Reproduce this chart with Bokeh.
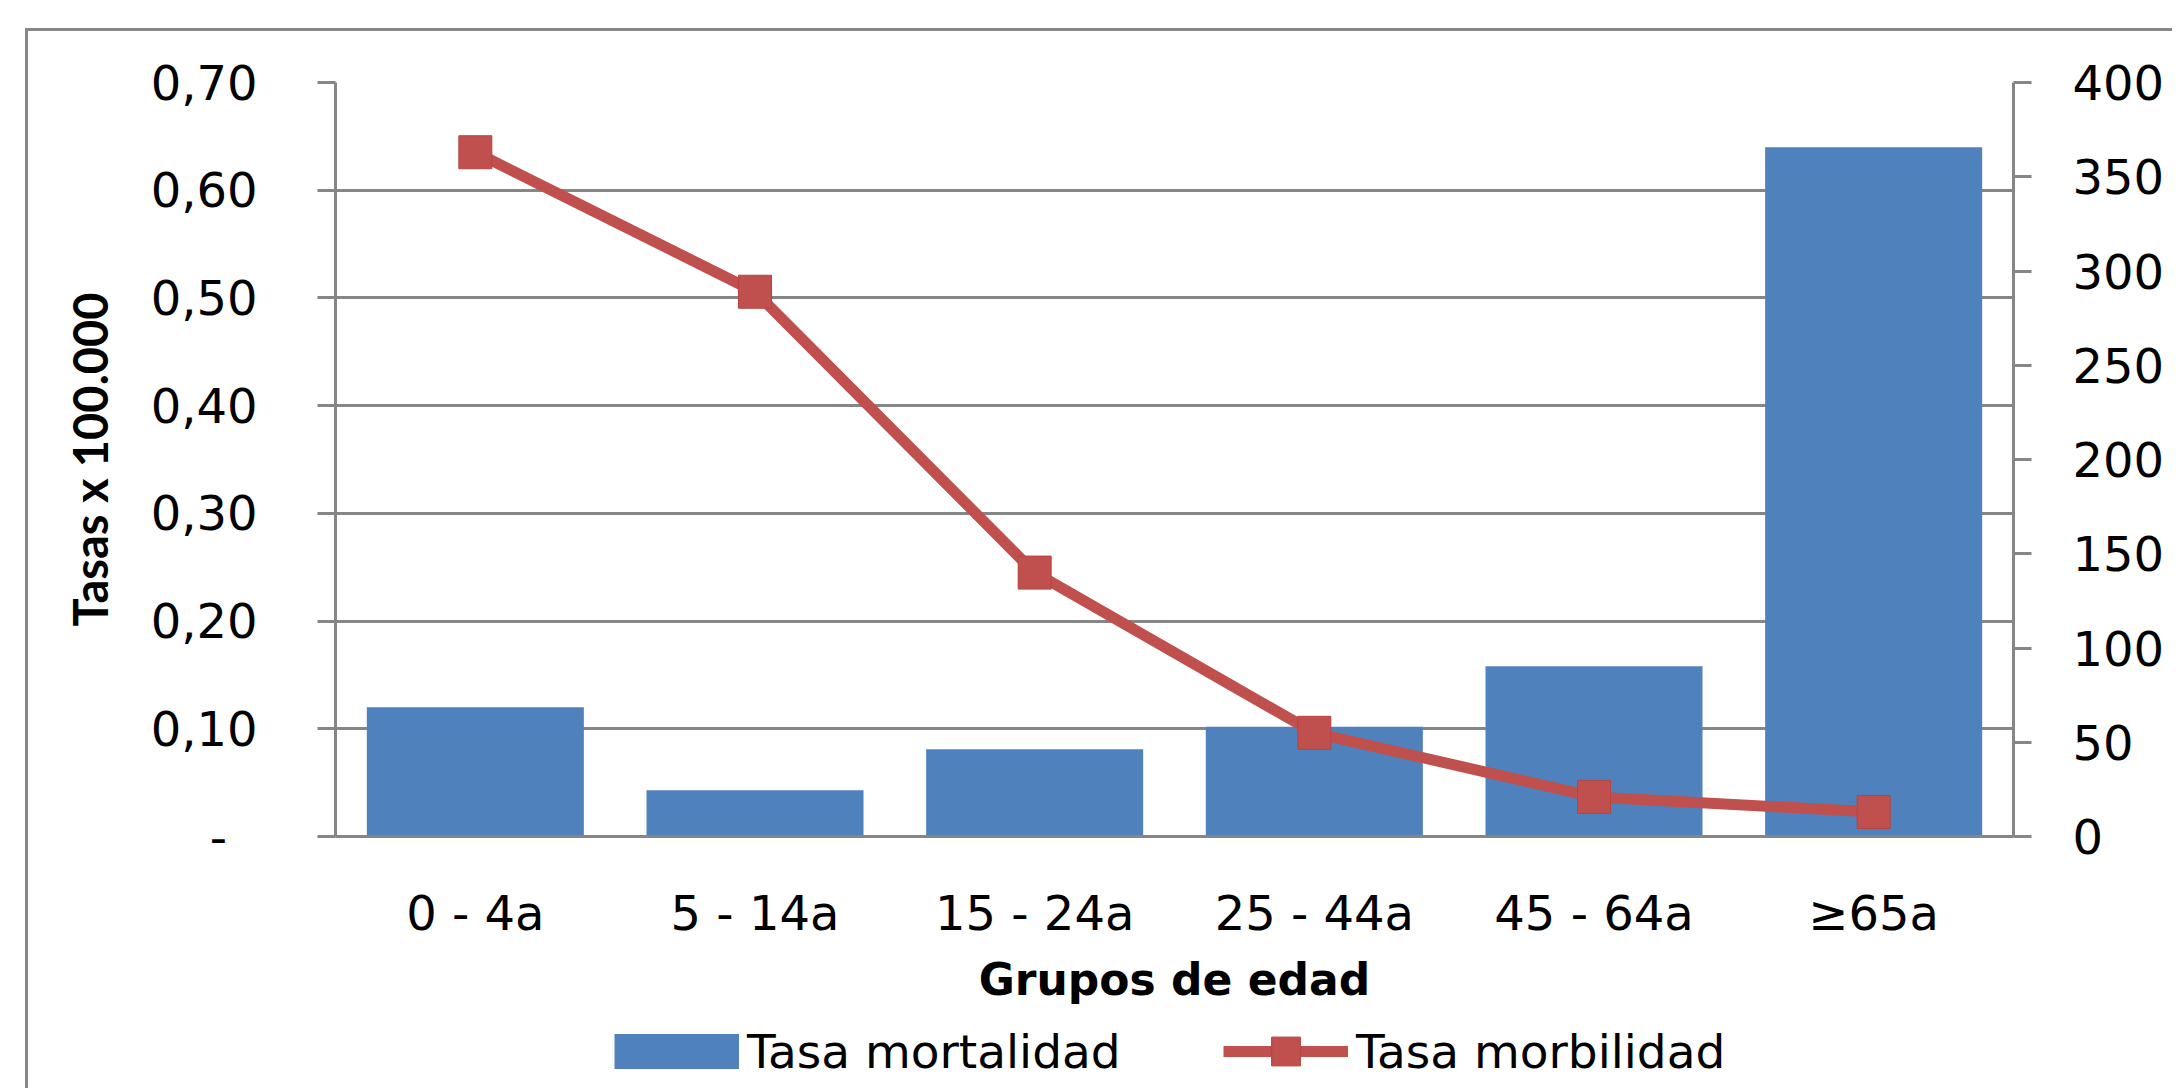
from bokeh.plotting import figure
from bokeh.layouts import column
from bokeh.models import (FactorRange, Range1d, LinearAxis, FixedTicker, CustomJSTickFormatter,
                          Legend, LegendItem, InlineStyleSheet)
from bokeh.embed import file_html
from bokeh.resources import INLINE

categories = ["0 - 4a", "5 - 14a", "15 - 24a", "25 - 44a", "45 - 64a", "≥65a"]
mortalidad = [0.120, 0.043, 0.081, 0.102, 0.158, 0.640]
morbilidad = [363, 289, 140, 55, 21, 13]
left_ticks = [0, 0.1, 0.2, 0.3, 0.4, 0.5, 0.6, 0.7]
right_ticks = [0, 50, 100, 150, 200, 250, 300, 350, 400]
series_names = ["Tasa mortalidad", "Tasa morbilidad"]

GRAY = "#868686"
BLUE = "#4F81BD"
RED = "#C0504D"
FONT = "DejaVu Sans"

p = figure(x_range=FactorRange(factors=categories, range_padding=0),
           y_range=Range1d(0, 0.7),
           width=2172, height=1010, output_backend="svg", toolbar_location=None,
           min_border_left=335, min_border_right=159, min_border_top=82, min_border_bottom=174)
p.extra_y_ranges = {"right": Range1d(0, 400)}
p.outline_line_color = None
p.background_fill_color = "white"
p.border_fill_color = "white"

p.vbar(x=categories, top=mortalidad, width=0.776, fill_color=BLUE, line_color=None)
p.line(x=categories, y=morbilidad, y_range_name="right", line_color=RED, line_width=11)
p.scatter(x=categories, y=morbilidad, y_range_name="right", marker="square", size=33,
          fill_color=RED, line_color="#B8433F", line_width=1)

# left axis
ly = p.yaxis[0]
ly.ticker = FixedTicker(ticks=left_ticks)
ly.formatter = CustomJSTickFormatter(code="return tick == 0 ? '-\u00a0\u00a0' : tick.toFixed(2).replace('.', ',');")
ly.axis_line_color = GRAY
ly.axis_line_width = 3
ly.major_tick_line_color = GRAY
ly.major_tick_line_width = 3
ly.major_tick_in = 0
ly.major_tick_out = 18
ly.minor_tick_line_color = None
ly.major_label_standoff = 60
ly.major_label_text_font = FONT
ly.major_label_text_font_size = "48px"
ly.major_label_text_color = "black"
ly.axis_label = "Tasas x 100.000"
ly.axis_label_text_font = "Lato"
ly.axis_label_text_font_style = "bold"
ly.axis_label_text_font_size = "47px"
ly.axis_label_text_color = "black"
ly.axis_label_standoff = 30

# right axis
ry = LinearAxis(y_range_name="right", ticker=FixedTicker(ticks=right_ticks))
ry.axis_line_color = GRAY
ry.axis_line_width = 3
ry.major_tick_line_color = GRAY
ry.major_tick_line_width = 3
ry.major_tick_in = 0
ry.major_tick_out = 18
ry.minor_tick_line_color = None
ry.major_label_standoff = 41
ry.major_label_text_font = FONT
ry.major_label_text_font_size = "48px"
ry.major_label_text_color = "black"
p.add_layout(ry, "right")

# bottom axis
bx = p.xaxis[0]
bx.axis_line_color = GRAY
bx.axis_line_width = 3
bx.major_tick_line_color = None
bx.major_tick_out = 0
bx.major_tick_in = 0
bx.major_label_standoff = 48
bx.major_label_text_font = FONT
bx.major_label_text_font_size = "48px"
bx.major_label_text_color = "black"
bx.axis_label = "Grupos de edad"
bx.axis_label_text_font = FONT
bx.axis_label_text_font_style = "bold"
bx.axis_label_text_font_size = "44px"
bx.axis_label_text_color = "black"
bx.axis_label_standoff = 10

# grid
p.xgrid.grid_line_color = None
p.ygrid.grid_line_color = GRAY
p.ygrid.grid_line_width = 3
p.ygrid.ticker = FixedTicker(ticks=left_ticks)

# legend strip (separate small figure so the legend is not clipped)
lf = figure(width=2172, height=78, x_range=Range1d(0, 1), y_range=Range1d(0, 1),
            output_backend="svg", toolbar_location=None,
            min_border_left=0, min_border_right=0, min_border_top=0, min_border_bottom=0)
lf.axis.visible = False
lf.grid.grid_line_color = None
lf.outline_line_color = None
lf.background_fill_color = "white"
lf.border_fill_color = "white"
# legend key renderers: single points placed outside the visible range
k1 = lf.line(x=[-10], y=[-10], line_color=BLUE, line_width=35, line_cap="butt")
k2 = lf.line(x=[-10], y=[-10], line_color=RED, line_width=11)
k3 = lf.scatter(x=[-10], y=[-10], marker="square", fill_color=RED, line_color="#B8433F", line_width=1)
leg = Legend(items=[LegendItem(label=series_names[0], renderers=[k1]),
                    LegendItem(label=series_names[1], renderers=[k2, k3])],
             location=(279, 1), orientation="horizontal",
             glyph_width=125, glyph_height=72, label_standoff=8, label_width=376,
             spacing=100, padding=0, margin=0, border_line_color=None,
             background_fill_alpha=0, label_text_font=FONT, label_text_font_size="47px",
             label_text_color="black")
lf.add_layout(leg, "center")

# outer chart frame (only left and top edges are visible in the reference)
p.stylesheets = [InlineStyleSheet(css=""":host::after { content: ""; position: absolute;
  left: 25px; top: 28px; right: 0; bottom: 0; border-left: 3px solid #868686;
  border-top: 3px solid #868686; pointer-events: none; }""")]
lf.stylesheets = [InlineStyleSheet(css=""":host::after { content: ""; position: absolute;
  left: 25px; top: 0; width: 0; bottom: 0; border-left: 3px solid #868686;
  pointer-events: none; }""")]

layout = column(p, lf, spacing=0)
open("out.html", "w").write(file_html(layout, INLINE))
